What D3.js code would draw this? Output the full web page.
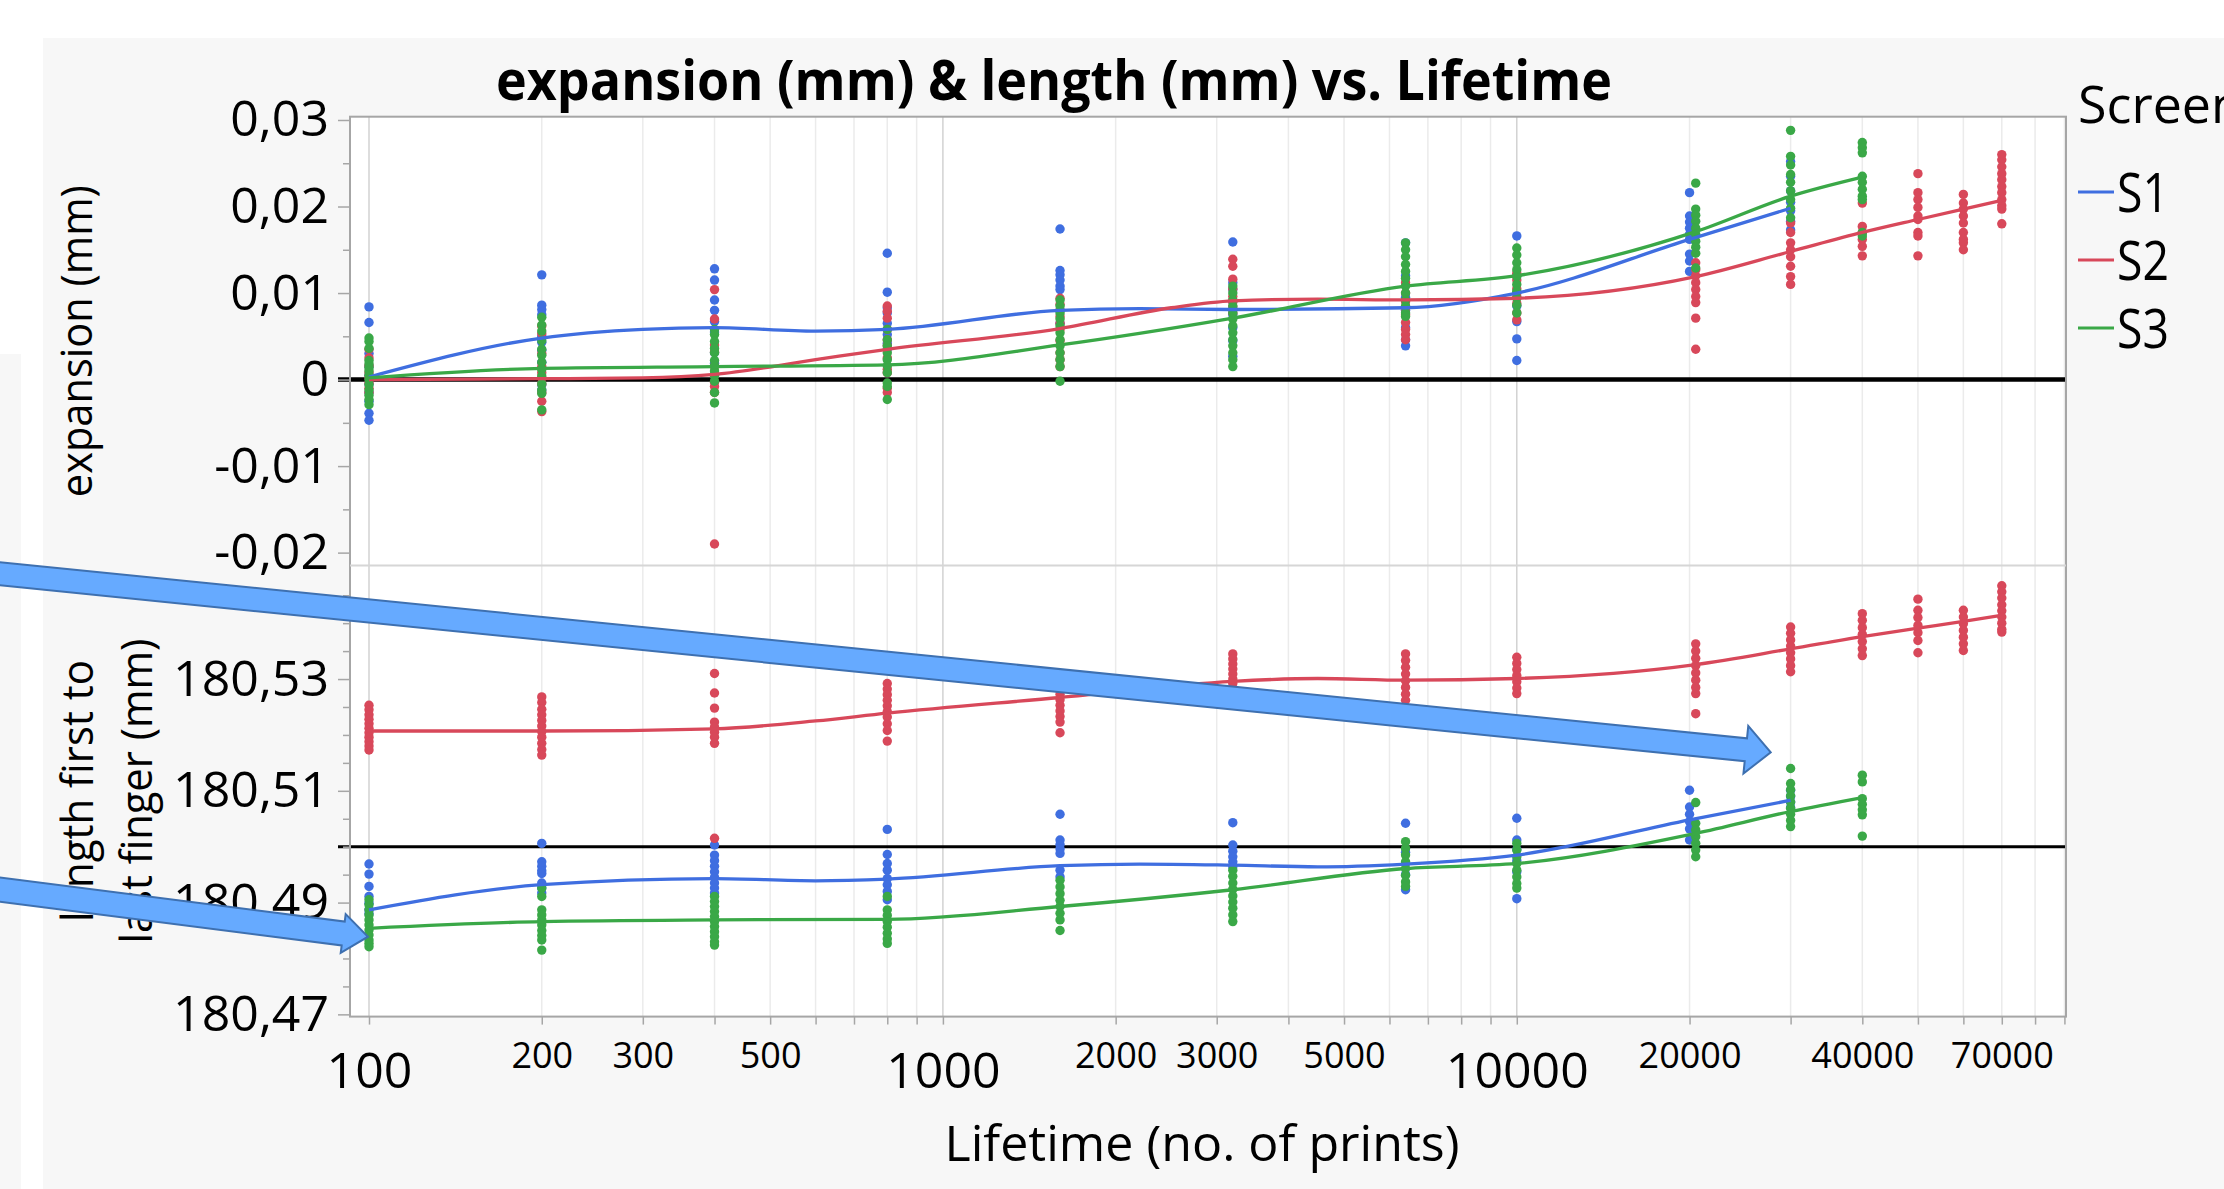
<!DOCTYPE html>
<html>
<head>
<meta charset="utf-8">
<script src="https://cdn.jsdelivr.net/npm/d3@7"></script>
<style>
  html, body { margin: 0; padding: 0; background: #fff; }
  svg { display: block; font-family: 'Open Sans', 'Noto Sans', sans-serif; }
</style>
</head>
<body>
<svg id="chart" width="2224" height="1189"></svg>
<script>
// ---- data ----
const screens = ['S1', 'S2', 'S3'];
const screenColors = ['#3f6ee0', '#d8485a', '#3aa847'];

const lifetimeS1 = [100, 200, 400, 800, 1600, 3200, 6400, 10000, 20000, 30000];
const lifetimeS2 = [100, 200, 400, 800, 1600, 3200, 6400, 10000, 20500, 30000, 40000, 50000, 60000, 70000];
const lifetimeS3 = [100, 200, 400, 800, 1600, 3200, 6400, 10000, 20500, 30000, 40000];

// expansion (mm), one list of measurements per lifetime
const expS1 = [
    [0.0084, 0.0066, 0.0030, 0.0015, 0.0005, -0.0005, -0.0015, -0.0025, -0.0039, -0.0047],
    [0.0121, 0.0086, 0.0081, 0.0075, 0.0050, 0.0043, 0.0034, 0.0020, -0.0006, -0.0012],
    [0.0128, 0.0115, 0.0092, 0.0080, 0.0067, 0.0055, 0.0031, 0.0019, 0.0005],
    [0.0146, 0.0101, 0.0083, 0.0077, 0.0065, 0.0052, 0.0042, 0.0035],
    [0.0174, 0.0126, 0.0121, 0.0115, 0.0108, 0.0104, 0.0080, 0.0065],
    [0.0159, 0.0112, 0.0104, 0.0090, 0.0075, 0.0060, 0.0045, 0.0027],
    [0.0158, 0.0120, 0.0095, 0.0080, 0.0060, 0.0046, 0.0039],
    [0.0166, 0.0120, 0.0100, 0.0085, 0.0067, 0.0047, 0.0022],
    [0.0216, 0.0189, 0.0182, 0.0175, 0.0168, 0.0162, 0.0145, 0.0137, 0.0125],
    [0.0252, 0.0235, 0.0218, 0.0205, 0.0195, 0.0183, 0.0173]
];
const expS2 = [
    [0.0035, 0.0025, 0.0016, 0.0008, 0.0002, -0.0004, -0.0010, -0.0015],
    [0.0062, 0.0053, 0.0030, 0.0015, 0.0008, 0.0002, -0.0005, -0.0015, -0.0025, -0.0037],
    [0.0104, 0.0070, 0.0040, 0.0032, 0.0015, 0.0006, -0.0003, -0.0008, -0.0015, -0.0190],
    [0.0085, 0.0079, 0.0071, 0.0058, 0.0046, 0.0039, 0.0025, 0.0012, 0.0008, -0.0010, -0.0015],
    [0.0094, 0.0087, 0.0080, 0.0073, 0.0065, 0.0058, 0.0045, 0.0031, 0.0023, 0.0015],
    [0.0139, 0.0131, 0.0116, 0.0105, 0.0096, 0.0090, 0.0084, 0.0077],
    [0.0112, 0.0100, 0.0090, 0.0082, 0.0075, 0.0066, 0.0058, 0.0052, 0.0046],
    [0.0123, 0.0115, 0.0105, 0.0096, 0.0088, 0.0077, 0.0069],
    [0.0135, 0.0127, 0.0120, 0.0112, 0.0104, 0.0096, 0.0089, 0.0071, 0.0035],
    [0.0181, 0.0170, 0.0158, 0.0150, 0.0142, 0.0131, 0.0119, 0.0110],
    [0.0204, 0.0177, 0.0170, 0.0162, 0.0154, 0.0143],
    [0.0238, 0.0216, 0.0208, 0.0199, 0.0189, 0.0185, 0.0170, 0.0166, 0.0143],
    [0.0214, 0.0204, 0.0197, 0.0189, 0.0181, 0.0170, 0.0162, 0.0158, 0.0150],
    [0.0260, 0.0254, 0.0246, 0.0238, 0.0231, 0.0223, 0.0216, 0.0208, 0.0201, 0.0197, 0.0180]
];
const expS3 = [
    [0.0048, 0.0044, 0.0036, 0.0022, 0.0018, 0.0014, 0.0010, 0.0005, 0.0000, -0.0006, -0.0012, -0.0018, -0.0023, -0.0029],
    [0.0072, 0.0063, 0.0056, 0.0045, 0.0035, 0.0028, 0.0020, 0.0012, 0.0004, -0.0005, -0.0012, -0.0016, -0.0035],
    [0.0058, 0.0052, 0.0044, 0.0036, 0.0031, 0.0022, 0.0016, 0.0010, 0.0004, -0.0002, -0.0015, -0.0027],
    [0.0058, 0.0046, 0.0039, 0.0031, 0.0023, 0.0016, 0.0008, -0.0004, -0.0008, -0.0023],
    [0.0092, 0.0085, 0.0077, 0.0070, 0.0062, 0.0054, 0.0046, 0.0039, 0.0031, 0.0023, 0.0015, -0.0002],
    [0.0108, 0.0100, 0.0092, 0.0085, 0.0077, 0.0070, 0.0062, 0.0054, 0.0046, 0.0039, 0.0031, 0.0023, 0.0015],
    [0.0158, 0.0150, 0.0142, 0.0133, 0.0125, 0.0117, 0.0108, 0.0100, 0.0092, 0.0085, 0.0077, 0.0073],
    [0.0152, 0.0144, 0.0135, 0.0127, 0.0119, 0.0110, 0.0102, 0.0094, 0.0086, 0.0077],
    [0.0227, 0.0197, 0.0190, 0.0183, 0.0175, 0.0168, 0.0160, 0.0153, 0.0146, 0.0129],
    [0.0288, 0.0258, 0.0248, 0.0237, 0.0228, 0.0218, 0.0208, 0.0198, 0.0187],
    [0.0274, 0.0268, 0.0262, 0.0235, 0.0228, 0.0220, 0.0212, 0.0208, 0.0170, 0.0166]
];

// length first to last finger (mm)
const lenS1 = [
    [180.4969, 180.4951, 180.4929, 180.4911, 180.4899, 180.4887, 180.4880],
    [180.5006, 180.4973, 180.4965, 180.4957, 180.4952, 180.4935, 180.4926, 180.4917],
    [180.5003, 180.4985, 180.4975, 180.4965, 180.4955, 180.4945, 180.4935, 180.4926, 180.4917],
    [180.5031, 180.4986, 180.4970, 180.4958, 180.4943, 180.4932, 180.4920, 180.4905],
    [180.5058, 180.5012, 180.5004, 180.4996, 180.4988, 180.4958, 180.4946],
    [180.5043, 180.5003, 180.4992, 180.4982, 180.4973, 180.4964],
    [180.5042, 180.4990, 180.4970, 180.4950, 180.4923],
    [180.5051, 180.5012, 180.4995, 180.4975, 180.4955, 180.4907],
    [180.5101, 180.5071, 180.5058, 180.5045, 180.5032, 180.5012],
    [180.5101, 180.5090, 180.5080, 180.5070]
];
const lenS2 = [
    [180.5253, 180.5245, 180.5236, 180.5228, 180.5220, 180.5212, 180.5204, 180.5196, 180.5188, 180.5180, 180.5173],
    [180.5268, 180.5258, 180.5246, 180.5236, 180.5226, 180.5216, 180.5206, 180.5196, 180.5185, 180.5174, 180.5164],
    [180.5310, 180.5275, 180.5248, 180.5223, 180.5214, 180.5205, 180.5196, 180.5185, 180.5015],
    [180.5292, 180.5282, 180.5272, 180.5262, 180.5252, 180.5242, 180.5232, 180.5220, 180.5208, 180.5189],
    [180.5283, 180.5273, 180.5263, 180.5253, 180.5243, 180.5233, 180.5223, 180.5204],
    [180.5345, 180.5336, 180.5327, 180.5318, 180.5309, 180.5300, 180.5292],
    [180.5345, 180.5333, 180.5321, 180.5309, 180.5297, 180.5285, 180.5273, 180.5262],
    [180.5339, 180.5328, 180.5317, 180.5306, 180.5295, 180.5284, 180.5274],
    [180.5363, 180.5350, 180.5337, 180.5324, 180.5311, 180.5298, 180.5285, 180.5274, 180.5238],
    [180.5393, 180.5382, 180.5370, 180.5359, 180.5347, 180.5336, 180.5324, 180.5313],
    [180.5417, 180.5405, 180.5392, 180.5380, 180.5367, 180.5354, 180.5342],
    [180.5443, 180.5423, 180.5410, 180.5396, 180.5383, 180.5369, 180.5347],
    [180.5423, 180.5411, 180.5399, 180.5387, 180.5375, 180.5363, 180.5351],
    [180.5467, 180.5456, 180.5445, 180.5433, 180.5422, 180.5411, 180.5400, 180.5389, 180.5384]
];
const lenS3 = [
    [180.4905, 180.4896, 180.4887, 180.4878, 180.4869, 180.4860, 180.4851, 180.4842, 180.4833, 180.4827, 180.4821],
    [180.4926, 180.4911, 180.4887, 180.4878, 180.4869, 180.4860, 180.4850, 180.4841, 180.4833, 180.4815],
    [180.4911, 180.4902, 180.4893, 180.4884, 180.4875, 180.4866, 180.4857, 180.4848, 180.4839, 180.4830, 180.4824],
    [180.4911, 180.4887, 180.4877, 180.4866, 180.4856, 180.4845, 180.4835, 180.4827],
    [180.4940, 180.4928, 180.4916, 180.4904, 180.4893, 180.4881, 180.4869, 180.4850],
    [180.4958, 180.4947, 180.4935, 180.4924, 180.4912, 180.4901, 180.4890, 180.4878, 180.4866],
    [180.5009, 180.4997, 180.4985, 180.4973, 180.4961, 180.4949, 180.4937, 180.4929],
    [180.5006, 180.4994, 180.4982, 180.4970, 180.4958, 180.4946, 180.4934, 180.4926],
    [180.5079, 180.5042, 180.5030, 180.5018, 180.5006, 180.4994, 180.4982],
    [180.5140, 180.5113, 180.5102, 180.5091, 180.5080, 180.5069, 180.5058, 180.5047, 180.5036],
    [180.5128, 180.5116, 180.5086, 180.5076, 180.5066, 180.5057, 180.5019]
];

// smoothing-spline fits as drawn, [lifetime, value]
const fitExpS1 = [[100, 0.0003], [200, 0.0048], [300, 0.0058], [400, 0.0060], [600, 0.0056], [800, 0.0058],
    [1600, 0.0080], [2200, 0.0082], [3200, 0.0081], [6400, 0.0083], [10000, 0.0100], [20000, 0.0162], [30000, 0.0198]];
const fitExpS2 = [[100, 0.0000], [200, 0.0001], [300, 0.0002], [400, 0.0006], [600, 0.0023], [800, 0.0035],
    [1600, 0.0059], [2500, 0.0083], [3200, 0.0091], [4500, 0.0093], [6400, 0.0092], [10000, 0.0094],
    [20500, 0.0119], [30000, 0.0148], [40000, 0.0170], [50000, 0.0185], [60000, 0.0197], [70000, 0.0207]];
const fitExpS3 = [[100, 0.0002], [200, 0.0013], [400, 0.0015], [800, 0.0017], [1600, 0.0040], [3200, 0.0071],
    [6400, 0.0108], [10000, 0.0120], [20500, 0.0171], [30000, 0.0212], [40000, 0.0234]];
const fitLenS1 = [[100, 180.4887], [200, 180.4932], [400, 180.4943], [600, 180.4939], [800, 180.4942],
    [1600, 180.4966], [2200, 180.4969], [3200, 180.4967], [4500, 180.4964], [6400, 180.4969],
    [10000, 180.4985], [20000, 180.5048], [30000, 180.5083]];
const fitLenS2 = [[100, 180.5207], [200, 180.5207], [400, 180.5211], [600, 180.5225], [800, 180.5239],
    [1600, 180.5267], [3200, 180.5296], [4500, 180.5301], [6400, 180.5298], [10000, 180.5301],
    [20500, 180.5326], [30000, 180.5354], [40000, 180.5376], [50000, 180.5391], [60000, 180.5403], [70000, 180.5414]];
const fitLenS3 = [[100, 180.4854], [200, 180.4866], [400, 180.4869], [800, 180.4870], [1600, 180.4893],
    [3200, 180.4923], [6400, 180.4961], [10000, 180.4970], [20500, 180.5024], [30000, 180.5063], [40000, 180.5088]];

// axis ticks and labels
const xMajorLabels = [100, 1000, 10000];
const xMinorLabels = [200, 300, 500, 2000, 3000, 5000, 20000, 40000, 70000];
const expTicks = [0.03, 0.02, 0.01, 0, -0.01, -0.02];
const lenTicks = [180.53, 180.51, 180.49, 180.47];
const expRef = 0;
const lenRef = 180.50;

// callout arrows pasted over the graph (tip in data units, slope of the shaft)
const callouts = [
    {lifetime: 27700, length: 180.5169, slope: 0.1008, shaft: 11.5, head: 24, headLen: 25},
    {lifetime: 99.6, length: 180.4839, slope: 0.128, shaft: 12, head: 19.5, headLen: 25}
];

// ---- layout ----
const W = 2224, H = 1189;
const plotL = 350, plotR = 2066;
const upTop = 116.7, midY = 565.6, lowBot = 1016.6;

const svg = d3.select('#chart');

const x = d3.scaleLog().domain([92.66, 90570]).range([plotL, plotR]);
const yExp = d3.scaleLinear().domain([-0.0215, 0.03038]).range([midY, upTop]);
const yLen = d3.scaleLinear().domain([180.4696, 180.5503]).range([lowBot, midY]);

const locale = d3.formatLocale({decimal: ',', thousands: '.', grouping: [3], currency: ['', ''], minus: '-'});
const fmt2 = locale.format('.2f');
const expFmt = v => (Math.abs(v) < 1e-9 ? '0' : fmt2(v));

// JMP window background
svg.append('rect').attr('x', 0).attr('y', 0).attr('width', W).attr('height', H).attr('fill', '#fff');
svg.append('rect').attr('x', 43).attr('y', 38).attr('width', W - 43).attr('height', H - 38).attr('fill', '#f7f7f7');
svg.append('rect').attr('x', 0).attr('y', 354).attr('width', 21).attr('height', H - 354).attr('fill', '#f7f7f7');

// plot area
svg.append('rect')
    .attr('x', plotL).attr('y', upTop)
    .attr('width', plotR - plotL).attr('height', lowBot - upTop)
    .attr('fill', '#fff');

const xTicks = d3.range(2, 5)
    .flatMap(e => d3.range(1, 10).map(k => k * Math.pow(10, e)))
    .filter(v => v >= x.domain()[0] && v <= x.domain()[1]);

svg.append('g').selectAll('line').data(xTicks).join('line')
    .attr('x1', d => x(d)).attr('x2', d => x(d))
    .attr('y1', upTop).attr('y2', lowBot)
    .attr('stroke', d => (xMajorLabels.includes(d) ? '#d2d2d2' : '#ebebeb'))
    .attr('stroke-width', 1.5);

// reference lines
svg.append('line')
    .attr('x1', plotL - 12).attr('x2', plotR)
    .attr('y1', yExp(expRef)).attr('y2', yExp(expRef))
    .attr('stroke', '#000').attr('stroke-width', 4.5);
svg.append('line')
    .attr('x1', plotL - 12).attr('x2', plotR)
    .attr('y1', yLen(lenRef)).attr('y2', yLen(lenRef))
    .attr('stroke', '#000').attr('stroke-width', 3);

const series = [
    {lifetimes: lifetimeS1, exp: expS1, len: lenS1, fitExp: fitExpS1, fitLen: fitLenS1},
    {lifetimes: lifetimeS2, exp: expS2, len: lenS2, fitExp: fitExpS2, fitLen: fitLenS2},
    {lifetimes: lifetimeS3, exp: expS3, len: lenS3, fitExp: fitExpS3, fitLen: fitLenS3}
].map((s, i) => Object.assign(s, {name: screens[i], color: screenColors[i]}));

const panels = [
    {key: 'exp', fit: 'fitExp', y: yExp},
    {key: 'len', fit: 'fitLen', y: yLen}
];

panels.forEach(p => {
    const pts = series.flatMap(s => s.lifetimes.flatMap((t, i) =>
        s[p.key][i].map(v => ({t: t, v: v, color: s.color}))));

    svg.append('g').selectAll('circle').data(pts).join('circle')
        .attr('cx', d => x(d.t))
        .attr('cy', d => p.y(d.v))
        .attr('r', 4.7)
        .attr('fill', d => d.color);

    const line = d3.line()
        .x(d => x(d[0]))
        .y(d => p.y(d[1]))
        .curve(d3.curveMonotoneX);

    svg.append('g').selectAll('path').data(series).join('path')
        .attr('d', s => line(s[p.fit]))
        .attr('fill', 'none')
        .attr('stroke', s => s.color)
        .attr('stroke-width', 3.3);
});

// frame
const frame = svg.append('g').attr('fill', 'none').attr('stroke', '#a6a6a6').attr('stroke-width', 2);
frame.append('rect').attr('x', plotL).attr('y', upTop).attr('width', plotR - plotL).attr('height', lowBot - upTop);
frame.append('line').attr('x1', plotL).attr('x2', plotR).attr('y1', midY).attr('y2', midY).attr('stroke', '#d6d6d6');

// y axes
function styleAxis(g, fontSize) {
    g.select('.domain').remove();
    g.selectAll('.tick line').attr('stroke', '#a6a6a6').attr('stroke-width', 1.5);
    g.selectAll('.tick text')
        .attr('font-family', "'Open Sans', 'Noto Sans', sans-serif")
        .attr('font-size', fontSize)
        .attr('fill', '#000');
}

const expMinor = d3.range(-4, 7).map(i => i * 0.005).filter(v => !expTicks.some(t => Math.abs(t - v) < 1e-9));
const lenMinor = d3.range(0, 16).map(i => 180.47 + i * 0.005).filter(v => !lenTicks.some(t => Math.abs(t - v) < 1e-9));

svg.append('g').attr('transform', `translate(${plotL},0)`)
    .call(d3.axisLeft(yExp).tickValues(expMinor).tickSize(7).tickFormat(''))
    .call(g => styleAxis(g, 0));
svg.append('g').attr('transform', `translate(${plotL},0)`)
    .call(d3.axisLeft(yLen).tickValues(lenMinor).tickSize(7).tickFormat(''))
    .call(g => styleAxis(g, 0));
svg.append('g').attr('transform', `translate(${plotL},0)`)
    .call(d3.axisLeft(yExp).tickValues(expTicks).tickSize(12).tickPadding(9).tickFormat(expFmt))
    .call(g => styleAxis(g, 50));
svg.append('g').attr('transform', `translate(${plotL},0)`)
    .call(d3.axisLeft(yLen).tickValues(lenTicks).tickSize(12).tickPadding(9).tickFormat(fmt2))
    .call(g => styleAxis(g, 50));

// x axis
svg.append('g').attr('transform', `translate(0,${lowBot})`)
    .call(d3.axisBottom(x).tickValues(xTicks).tickSize(8).tickFormat(''))
    .call(g => styleAxis(g, 0));
svg.append('g').attr('transform', `translate(0,${lowBot})`)
    .call(d3.axisBottom(x).tickValues(xMajorLabels).tickSize(0).tickPadding(36).tickFormat(d3.format('d')))
    .call(g => styleAxis(g, 50));
svg.append('g').attr('transform', `translate(0,${lowBot})`)
    .call(d3.axisBottom(x).tickValues(xMinorLabels).tickSize(0).tickPadding(26).tickFormat(d3.format('d')))
    .call(g => styleAxis(g, 36));

// titles
svg.append('text')
    .attr('x', 1054).attr('y', 100)
    .attr('text-anchor', 'middle')
    .attr('font-size', 55).attr('font-weight', 700)
    .attr('textLength', 1116).attr('lengthAdjust', 'spacingAndGlyphs')
    .text('expansion (mm) & length (mm) vs. Lifetime');

svg.append('text')
    .attr('x', 1202).attr('y', 1161)
    .attr('text-anchor', 'middle')
    .attr('font-size', 49)
    .attr('textLength', 515).attr('lengthAdjust', 'spacingAndGlyphs')
    .text('Lifetime (no. of prints)');

svg.append('text')
    .attr('transform', `translate(92,${(upTop + midY) / 2}) rotate(-90)`)
    .attr('text-anchor', 'middle')
    .attr('font-size', 44)
    .attr('textLength', 312).attr('lengthAdjust', 'spacingAndGlyphs')
    .text('expansion (mm)');

const lenTitle = [['length first to', 93, 262], ['last finger (mm)', 152, 305]];
svg.append('g').selectAll('text').data(lenTitle).join('text')
    .attr('transform', d => `translate(${d[1]},${(midY + lowBot) / 2}) rotate(-90)`)
    .attr('text-anchor', 'middle')
    .attr('font-size', 44)
    .attr('textLength', d => d[2]).attr('lengthAdjust', 'spacingAndGlyphs')
    .text(d => d[0]);

// legend (cut by the window edge, as in the screenshot)
const legend = svg.append('g').attr('transform', 'translate(2078,0)');
legend.append('text').attr('x', 0).attr('y', 123).attr('font-size', 52).text('Screen');
const items = legend.selectAll('g.item').data(series).join('g')
    .attr('class', 'item')
    .attr('transform', (d, i) => `translate(0,${212 + i * 68})`);
items.append('line')
    .attr('x1', 0).attr('x2', 36).attr('y1', -20).attr('y2', -20)
    .attr('stroke', d => d.color).attr('stroke-width', 3);
items.append('text')
    .attr('x', 39).attr('y', 0)
    .attr('font-size', 54)
    .attr('textLength', 52).attr('lengthAdjust', 'spacingAndGlyphs')
    .text(d => d.name);

// callout arrows on top
function arrowPoints(c) {
    const tx = x(c.lifetime), ty = yLen(c.length);
    const x0 = -20, y0 = ty - c.slope * (tx - x0);
    const len = Math.hypot(tx - x0, ty - y0);
    const ux = (tx - x0) / len, uy = (ty - y0) / len;
    const nx = -uy, ny = ux;
    const bx = tx - ux * c.headLen, by = ty - uy * c.headLen;
    return [
        [x0 + nx * c.shaft, y0 + ny * c.shaft],
        [bx + nx * c.shaft, by + ny * c.shaft],
        [bx + nx * c.head, by + ny * c.head],
        [tx, ty],
        [bx - nx * c.head, by - ny * c.head],
        [bx - nx * c.shaft, by - ny * c.shaft],
        [x0 - nx * c.shaft, y0 - ny * c.shaft]
    ];
}

svg.append('g').selectAll('polygon').data(callouts).join('polygon')
    .attr('points', c => arrowPoints(c).map(p => p.join(',')).join(' '))
    .attr('fill', '#66aaff')
    .attr('stroke', '#3e70b0')
    .attr('stroke-width', 2);
</script>
</body>
</html>
